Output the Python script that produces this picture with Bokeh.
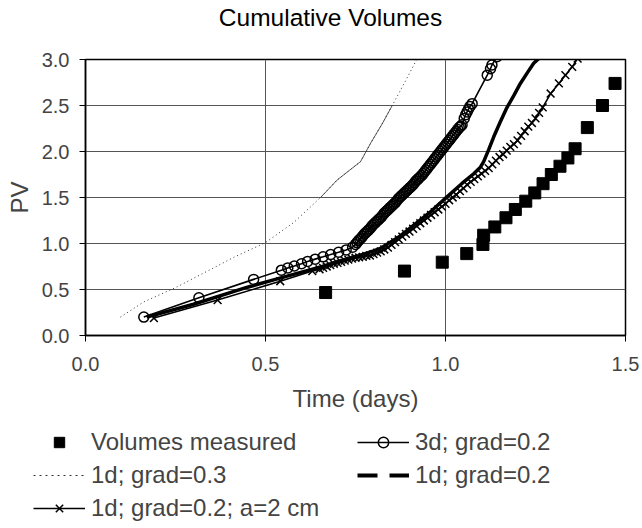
from bokeh.plotting import figure
from bokeh.models import (Legend, LegendItem, ColumnDataSource, PrintfTickFormatter,
                          FixedTicker, Range1d, Label)
from bokeh.layouts import column
from bokeh.embed import file_html
from bokeh.resources import INLINE

FONT = "Liberation Sans"

# ---------------- data ----------------
title_text = "Cumulative Volumes"
x_label = "Time (days)"
y_label = "PV"
x_ticks = [0.0, 0.5, 1.0, 1.5]
y_ticks = [0.0, 0.5, 1.0, 1.5, 2.0, 2.5, 3.0]

# Volumes measured
meas_x = [0.667, 0.886, 0.991, 1.059, 1.104, 1.106, 1.137, 1.168, 1.194, 1.223,
          1.248, 1.271, 1.294, 1.318, 1.340, 1.360, 1.394, 1.436, 1.471]
meas_y = [0.467, 0.70, 0.797, 0.89, 0.99, 1.09, 1.18, 1.28, 1.37, 1.46,
          1.55, 1.65, 1.75, 1.84, 1.93, 2.03, 2.26, 2.50, 2.74]

# 1d; grad=0.3 (dotted)
g03_x = [0.097, 0.162, 0.255, 0.324, 0.412, 0.500, 0.579, 0.653, 0.699, 0.764,
         0.792, 0.824, 0.852, 0.870, 0.892, 0.912, 0.920]
g03_y = [0.20, 0.365, 0.53, 0.67, 0.85, 1.01, 1.23, 1.50, 1.69, 1.89,
         2.09, 2.30, 2.50, 2.63, 2.79, 2.94, 3.00]

# 3d; grad=0.2 (circles)
c3_x = [0.162, 0.315, 0.467, 0.544, 0.562, 0.580, 0.600, 0.617, 0.638, 0.660,
        0.681, 0.703, 0.724, 0.742,
        0.750, 0.754, 0.758, 0.762, 0.766, 0.770, 0.774, 0.778, 0.782, 0.786,
        0.790, 0.794, 0.798, 0.802, 0.806, 0.810, 0.814, 0.818, 0.822, 0.826,
        0.830, 0.834, 0.838, 0.842, 0.846, 0.850, 0.854, 0.858, 0.862, 0.866,
        0.870, 0.874, 0.878, 0.882, 0.886, 0.890, 0.894, 0.898, 0.902, 0.906,
        0.910, 0.914, 0.918, 0.922, 0.926, 0.930, 0.934, 0.938, 0.942, 0.946,
        0.950, 0.954, 0.958, 0.962, 0.966, 0.970, 0.974, 0.978, 0.982, 0.986,
        0.990, 0.994, 0.998, 1.002, 1.006, 1.010, 1.014, 1.018, 1.022, 1.026,
        1.030, 1.034, 1.038, 1.042, 1.046,
        1.052, 1.056, 1.060, 1.064, 1.068, 1.074,
        1.116, 1.125, 1.129, 1.143]
c3_y = [0.20, 0.41, 0.61, 0.71, 0.735, 0.755, 0.78, 0.805, 0.83, 0.855,
        0.88, 0.905, 0.93, 0.96,
        0.99, 1.01, 1.03, 1.045, 1.06, 1.08, 1.10, 1.115, 1.13, 1.145,
        1.16, 1.18, 1.20, 1.215, 1.23, 1.245, 1.26, 1.275, 1.29, 1.31,
        1.33, 1.345, 1.36, 1.375, 1.39, 1.405, 1.42, 1.435, 1.45, 1.47,
        1.49, 1.505, 1.52, 1.535, 1.55, 1.565, 1.58, 1.595, 1.61, 1.625,
        1.64, 1.66, 1.68, 1.695, 1.71, 1.725, 1.74, 1.76, 1.78, 1.80,
        1.82, 1.84, 1.86, 1.88, 1.90, 1.92, 1.94, 1.96, 1.98, 2.00,
        2.02, 2.04, 2.06, 2.08, 2.10, 2.12, 2.14, 2.16, 2.18, 2.20,
        2.22, 2.24, 2.26, 2.275, 2.29,
        2.36, 2.40, 2.43, 2.46, 2.49, 2.52,
        2.83, 2.90, 2.94, 3.03]

# 1d; grad=0.2 (thick dashed line)
g02_x = [0.170, 0.300, 0.450, 0.550, 0.653, 0.745, 0.800, 0.819, 0.870, 0.912,
         0.960, 1.005, 1.045, 1.079, 1.097, 1.106, 1.120, 1.134, 1.152, 1.171,
         1.190, 1.208, 1.228, 1.245, 1.273]
g02_y = [0.20, 0.34, 0.525, 0.635, 0.745, 0.85, 0.92, 0.946, 1.07, 1.20,
         1.35, 1.51, 1.65, 1.76, 1.83, 1.89, 2.02, 2.16, 2.32, 2.48,
         2.61, 2.74, 2.86, 2.96, 3.06]

# 1d; grad=0.2; a=2 cm (x markers)
a2_x = [0.190, 0.367, 0.541, 0.630,
        0.65, 0.66, 0.67, 0.68, 0.69, 0.70, 0.71, 0.72, 0.73, 0.74,
        0.75, 0.76, 0.77, 0.78, 0.79, 0.80, 0.81, 0.82, 0.83, 0.84,
        0.85, 0.86, 0.87, 0.88, 0.89, 0.90, 0.91, 0.92, 0.93, 0.94,
        0.95, 0.96, 0.97, 0.98, 0.99, 1.00, 1.01, 1.02, 1.03, 1.04,
        1.05, 1.06, 1.07, 1.08, 1.09, 1.10, 1.11, 1.12, 1.13, 1.14,
        1.15, 1.16, 1.17, 1.18, 1.19, 1.20, 1.21, 1.22, 1.23, 1.24,
        1.25, 1.26, 1.27, 1.292, 1.315, 1.333, 1.352, 1.367]
a2_y = [0.19, 0.385, 0.59, 0.70,
        0.72, 0.735, 0.75, 0.765, 0.78, 0.79, 0.80, 0.815, 0.825, 0.835,
        0.845, 0.85, 0.855, 0.865, 0.87, 0.885, 0.90, 0.915, 0.935, 0.955,
        0.985, 1.015, 1.045, 1.075, 1.105, 1.13, 1.16, 1.19, 1.22, 1.25,
        1.28, 1.31, 1.34, 1.37, 1.40, 1.43, 1.47, 1.50, 1.53, 1.57,
        1.60, 1.64, 1.67, 1.70, 1.73, 1.76, 1.79, 1.82, 1.86, 1.90,
        1.94, 1.97, 2.01, 2.05, 2.08, 2.12, 2.17, 2.22, 2.27, 2.31,
        2.36, 2.42, 2.48, 2.63, 2.74, 2.83, 2.92, 3.01]

labels = ["Volumes measured", "3d; grad=0.2", "1d; grad=0.3",
          "1d; grad=0.2", "1d; grad=0.2; a=2 cm"]

# ---------------- styles ----------------
S_MEAS = dict(marker="square", size=12, fill_color="black", line_color="black")
S_G03 = dict(line_color="#333333", line_width=1, line_dash="1 3")
S_G03_LEG = dict(line_color="#333333", line_width=1, line_dash="2 4")
S_G02 = dict(line_color="black", line_width=3.5)
S_G02_LEG = dict(line_color="black", line_width=4, line_dash="20 12")
S_A2L = dict(line_color="black", line_width=1.6)
S_A2M = dict(marker="x", size=11, line_color="black", line_width=1.5)
S_C3L = dict(line_color="black", line_width=1.6)
S_C3M = dict(marker="circle", size=10, line_color="black", line_width=1.5, fill_alpha=0)


def blank_fig(h):
    # a strip with no axes; its data window lies away from every series,
    # so series drawn in it only serve as legend samples
    f = figure(width=642, height=h, x_range=Range1d(-2, -1), y_range=Range1d(-2, -1),
               x_axis_location=None, y_axis_location=None,
               min_border=0, output_backend="svg", toolbar_location=None)
    f.frame_align = False
    f.outline_line_color = None
    f.grid.visible = False
    f.background_fill_color = "white"
    f.border_fill_color = "white"
    return f


# ---------------- title strip ----------------
p_title = blank_fig(40)
p_title.add_layout(Label(x=330, y=23, x_units="screen", y_units="screen",
                         text=title_text, text_align="center",
                         text_baseline="middle", text_font=FONT,
                         text_font_size="24.5px", text_color="black"))

# ---------------- main plot ----------------
p = figure(width=642, height=380,
           min_border_left=85, min_border_top=19, min_border_right=17,
           min_border_bottom=85,
           x_range=Range1d(0, 1.5), y_range=Range1d(0, 3.0),
           output_backend="svg", toolbar_location=None)

p.background_fill_color = "white"
p.border_fill_color = "white"
p.outline_line_color = "black"
p.outline_line_width = 1.5

for ax in (p.xaxis[0], p.yaxis[0]):
    ax.major_label_text_font = FONT
    ax.major_label_text_font_size = "20px"
    ax.axis_label_text_font = FONT
    ax.axis_label_text_font_size = "24px"
    ax.axis_label_text_font_style = "normal"
    ax.axis_line_color = "black"
    ax.axis_line_width = 1.5
    ax.major_tick_in = 0
    ax.major_tick_out = 6
    ax.major_tick_line_color = "black"
    ax.minor_tick_line_color = None
    ax.formatter = PrintfTickFormatter(format="%.1f")

p.yaxis.major_label_standoff = 10
p.xaxis.major_label_standoff = 15
p.xaxis.ticker = FixedTicker(ticks=x_ticks)
p.yaxis.ticker = FixedTicker(ticks=y_ticks)
p.xaxis.axis_label = x_label
p.yaxis.axis_label = y_label
p.xaxis.axis_label_standoff = 11
p.yaxis.axis_label_standoff = 6

p.xgrid.ticker = FixedTicker(ticks=x_ticks)
p.ygrid.ticker = FixedTicker(ticks=y_ticks)
p.grid.grid_line_color = "#555555"
p.grid.grid_line_width = 1

src_meas = ColumnDataSource(dict(x=meas_x, y=meas_y))
src_g03 = ColumnDataSource(dict(x=g03_x, y=g03_y))
seg = [i for i, v in enumerate(g03_x) if 0.65 <= v <= 0.86]
src_g03s = ColumnDataSource(dict(x=[g03_x[i] for i in seg], y=[g03_y[i] for i in seg]))
src_c3 = ColumnDataSource(dict(x=c3_x, y=c3_y))
src_g02 = ColumnDataSource(dict(x=g02_x, y=g02_y))
src_a2 = ColumnDataSource(dict(x=a2_x, y=a2_y))

p.line("x", "y", source=src_g03, **S_G03)
p.line("x", "y", source=src_g03s, line_color="#333333", line_width=0.8)
p.line("x", "y", source=src_g02, **S_G02)
p.line("x", "y", source=src_a2, **S_A2L)
p.scatter("x", "y", source=src_a2, **S_A2M)
p.line("x", "y", source=src_c3, **S_C3L)
p.scatter("x", "y", source=src_c3, **S_C3M)
p.scatter("x", "y", source=src_meas, **S_MEAS)

# ---------------- legend strip ----------------
p_leg = blank_fig(108)
l_meas = p_leg.scatter("x", "y", source=src_meas, **S_MEAS)
l_c3l = p_leg.line("x", "y", source=src_c3, **S_C3L)
l_c3m = p_leg.scatter("x", "y", source=src_c3, **S_C3M)
l_g03 = p_leg.line("x", "y", source=src_g03, **S_G03_LEG)
l_g02 = p_leg.line("x", "y", source=src_g02, **S_G02_LEG)
l_a2l = p_leg.line("x", "y", source=src_a2, **S_A2L)
l_a2m = p_leg.scatter("x", "y", source=src_a2, **S_A2M)

items = [
    LegendItem(label=labels[0], renderers=[l_meas]),
    LegendItem(label=labels[1], renderers=[l_c3l, l_c3m]),
    LegendItem(label=labels[2], renderers=[l_g03]),
    LegendItem(label=labels[3], renderers=[l_g02]),
    LegendItem(label=labels[4], renderers=[l_a2l, l_a2m]),
]
legend = Legend(items=items, location=(33, 6), orientation="horizontal",
                ncols=2, glyph_width=52, glyph_height=26, label_standoff=6,
                label_width=261, spacing=5, padding=0, margin=0,
                border_line_color=None, background_fill_alpha=0,
                label_text_font=FONT, label_text_font_size="24px")
p_leg.add_layout(legend)

layout = column(p_title, p, p_leg, spacing=0)
open("out.html", "w").write(file_html(layout, INLINE))
